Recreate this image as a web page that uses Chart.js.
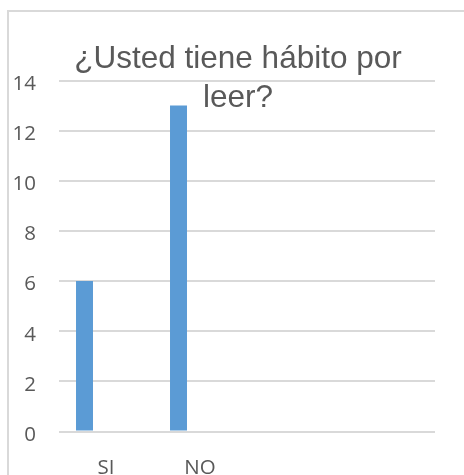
<!DOCTYPE html>
<html>
<head>
<meta charset="utf-8">
<script src="https://cdn.jsdelivr.net/npm/chart.js@4.4.0/dist/chart.umd.min.js"></script>
<style>
  html, body { margin: 0; padding: 0; background: #ffffff; overflow: hidden; }
  #wrap { position: relative; width: 464px; height: 490px; }
</style>
</head>
<body>
<div id="wrap"><canvas id="c"></canvas></div>
<script>
const categories = ['SI', 'NO', '', ''];
const respuestas = [6, 13, null, null];
const serieVacia2 = [null, null, null, null];
const serieVacia3 = [null, null, null, null];
const titleLines = ['¿Usted tiene hábito por', 'leer?'];
const yMin = 0, yMax = 14, yStep = 2;

const framePlugin = {
  id: 'frame',
  beforeDraw(chart) {
    const ctx = chart.ctx;
    ctx.save();
    ctx.fillStyle = '#ffffff';
    ctx.fillRect(0, 0, chart.width, chart.height);
    ctx.strokeStyle = '#d9d9d9';
    ctx.lineWidth = 2;
    ctx.beginPath();
    ctx.moveTo(8, chart.height);
    ctx.lineTo(8, 11);
    ctx.lineTo(chart.width, 11);
    ctx.stroke();
    ctx.restore();
  }
};

const titlePlugin = {
  id: 'overTitle',
  afterDraw(chart) {
    const ctx = chart.ctx;
    ctx.save();
    ctx.fillStyle = '#595959';
    ctx.font = '31.5px "Liberation Sans", Arial, sans-serif';
    ctx.textAlign = 'center';
    ctx.textBaseline = 'alphabetic';
    ctx.fillText(titleLines[0], 238, 68);
    ctx.fillText(titleLines[1], 238, 107);
    ctx.restore();
  }
};

new Chart(document.getElementById('c'), {
  type: 'bar',
  data: {
    labels: categories,
    datasets: [
      { data: respuestas, backgroundColor: '#5b9bd5', borderWidth: 0 },
      { data: serieVacia2, backgroundColor: '#ed7d31', borderWidth: 0 },
      { data: serieVacia3, backgroundColor: '#a5a5a5', borderWidth: 0 }
    ]
  },
  options: {
    responsive: true,
    maintainAspectRatio: false,
    animation: false,
    categoryPercentage: 0.686,
    barPercentage: 0.79,
    layout: { padding: { top: 80.5, right: 29, left: 0, bottom: 0 } },
    plugins: {
      legend: { display: false },
      title: { display: false },
      tooltip: { enabled: false }
    },
    scales: {
      x: {
        grid: { display: false, drawTicks: false },
        border: { display: false },
        ticks: {
          color: '#595959',
          font: { family: '"Open Sans"', size: 20.5 },
          padding: 24,
          maxRotation: 0,
          autoSkip: false
        },
        afterFit(scale) { scale.height = 58.5; }
      },
      y: {
        min: yMin,
        max: yMax,
        grid: { color: '#d9d9d9', lineWidth: 2, drawTicks: false },
        border: { display: false },
        ticks: {
          stepSize: yStep,
          color: '#595959',
          font: { family: '"Open Sans"', size: 20.5 },
          padding: 23,
          labelOffset: 3.5
        },
        afterFit(scale) { scale.width = 59; }
      }
    }
  },
  plugins: [framePlugin, titlePlugin]
});
</script>
</body>
</html>
